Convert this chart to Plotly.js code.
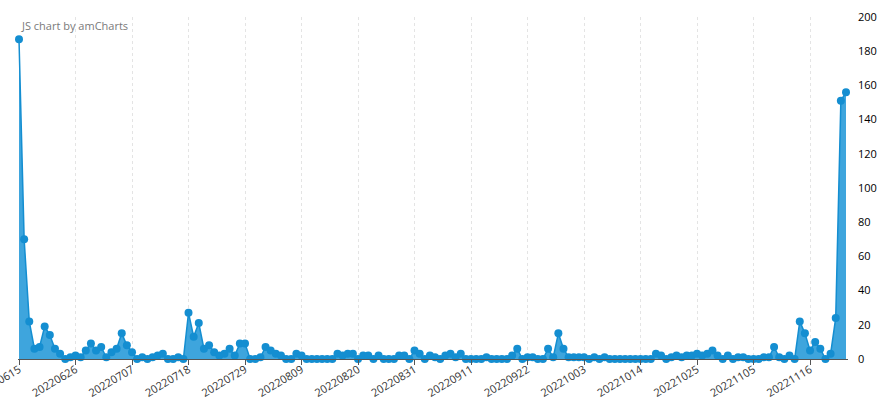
<!DOCTYPE html>
<html>
<head>
<meta charset="utf-8">
<script src="https://cdn.plot.ly/plotly-3.0.1.min.js"></script>
<style>html,body{margin:0;padding:0;background:#fff;}#chart{width:886px;height:400px;}</style>
</head>
<body>
<div id="chart"></div>
<script>
const dates = [
"20220615","20220616","20220617","20220618","20220619","20220620","20220621","20220622","20220623","20220624","20220625","20220626","20220627","20220628","20220629","20220630",
"20220701","20220702","20220703","20220704","20220705","20220706","20220707","20220708","20220709","20220710","20220711","20220712","20220713","20220714","20220715","20220716","20220717","20220718","20220719","20220720","20220721","20220722","20220723","20220724","20220725","20220726","20220727","20220728","20220729","20220730","20220731",
"20220801","20220802","20220803","20220804","20220805","20220806","20220807","20220808","20220809","20220810","20220811","20220812","20220813","20220814","20220815","20220816","20220817","20220818","20220819","20220820","20220821","20220822","20220823","20220824","20220825","20220826","20220827","20220828","20220829","20220830","20220831",
"20220901","20220902","20220903","20220904","20220905","20220906","20220907","20220908","20220909","20220910","20220911","20220912","20220913","20220914","20220915","20220916","20220917","20220918","20220919","20220920","20220921","20220922","20220923","20220924","20220925","20220926","20220927","20220928","20220929","20220930",
"20221001","20221002","20221003","20221004","20221005","20221006","20221007","20221008","20221009","20221010","20221011","20221012","20221013","20221014","20221015","20221016","20221017","20221018","20221019","20221020","20221021","20221022","20221023","20221024","20221025","20221026","20221027","20221028","20221029","20221030","20221031",
"20221101","20221102","20221103","20221104","20221105","20221106","20221107","20221108","20221109","20221110","20221111","20221112","20221113","20221114","20221115","20221116","20221117","20221118","20221119","20221120","20221121","20221122","20221123"
];
const values = [
187,70,22,6,7,19,14,6,3,0,1,2,1,5,9,5,
7,1,4,6,15,8,4,0,1,0,1,2,3,0,0,1,0,27,13,21,6,8,4,2,3,6,2,9,9,0,0,
1,7,5,3,2,0,0,3,2,0,0,0,0,0,0,3,2,3,3,0,2,2,0,2,0,0,0,2,2,0,5,
3,0,2,1,0,2,3,1,3,0,0,0,0,1,0,0,0,0,2,6,0,1,1,0,0,6,1,15,6,1,
1,1,1,0,1,0,1,0,0,0,0,0,0,0,0,0,3,2,0,1,2,1,2,2,3,2,3,5,2,0,2,
0,1,1,0,0,0,1,1,7,1,0,2,0,22,15,5,10,6,0,3,24,151,156
];
const tickLabels = ["20220615","20220626","20220707","20220718","20220729","20220809","20220820","20220831","20220911","20220922","20221003","20221014","20221025","20221105","20221116"];
const titleText = "JS chart by amCharts";

const trace = {
  x: dates, y: values, type: 'scatter', mode: 'lines+markers',
  fill: 'tozeroy', fillcolor: 'rgba(52,160,219,0.95)',
  line: {color: '#148ed1', width: 1.5},
  marker: {color: '#148ed1', size: 8},
  cliponaxis: false, hoverinfo: 'x+y'
};

const layout = {
  width: 886, height: 400,
  margin: {l: 18, r: 38, t: 17, b: 41},
  paper_bgcolor: '#fff', plot_bgcolor: '#fff',
  showlegend: false,
  font: {family: 'Open Sans, Liberation Sans, sans-serif', size: 11, color: '#000'},
  xaxis: {
    type: 'category', range: [-0.195, 161.39],
    tickmode: 'array', tickvals: tickLabels, ticktext: tickLabels,
    tickangle: -31, ticks: 'outside', ticklen: 5, tickcolor: '#555',
    ticklabelstandoff: -6,
    showline: true, linecolor: '#555', linewidth: 1,
    showgrid: true, gridcolor: '#e4e4e4', griddash: 'dot', gridwidth: 1,
    tickfont: {size: 11, color: '#333'}, zeroline: false, fixedrange: true
  },
  yaxis: {
    side: 'right', range: [0, 200], dtick: 20, showgrid: false, zeroline: false,
    showline: false, ticks: '', ticklabelstandoff: 9,
    tickfont: {size: 11, color: '#000'}, fixedrange: true
  },
  annotations: [{
    text: titleText, xref: 'paper', yref: 'paper', x: 0, y: 1,
    xanchor: 'left', yanchor: 'middle', xshift: 1, yshift: -8, showarrow: false,
    font: {size: 11, color: '#7a7a7a'}
  }]
};

Plotly.newPlot('chart', [trace], layout, {displayModeBar: false, staticPlot: true});
</script>
</body>
</html>
